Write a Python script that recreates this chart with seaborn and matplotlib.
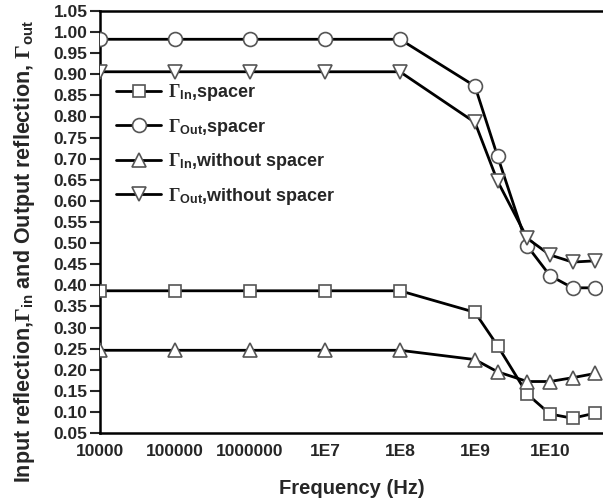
import matplotlib
matplotlib.use("Agg")
import matplotlib.pyplot as plt
import seaborn as sns
import numpy as np
from matplotlib.ticker import FixedLocator, FixedFormatter, NullLocator

sns.set_style("ticks")
plt.rcParams['font.family'] = ['Liberation Sans', 'DejaVu Sans']
plt.rcParams['font.weight'] = 'bold'
plt.rcParams['mathtext.fontset'] = 'custom'
plt.rcParams['mathtext.rm'] = 'Liberation Serif'
plt.rcParams['mathtext.it'] = 'Liberation Serif:italic'
plt.rcParams['mathtext.bf'] = 'Liberation Sans:bold'

freq = [1e4, 1e5, 1e6, 1e7, 1e8, 1e9, 2e9, 5e9, 1e10, 2e10, 4e10]
gin_spacer = [0.387, 0.387, 0.387, 0.387, 0.387, 0.336, 0.257, 0.142, 0.095, 0.085, 0.097]
gout_spacer = [0.983, 0.983, 0.983, 0.983, 0.983, 0.872, 0.706, 0.493, 0.423, 0.394, 0.394]
gin_without = [0.246, 0.246, 0.246, 0.246, 0.246, 0.224, 0.195, 0.172, 0.172, 0.181, 0.191]
gout_without = [0.906, 0.906, 0.906, 0.906, 0.906, 0.786, 0.647, 0.511, 0.472, 0.455, 0.458]

labels = [r'$\Gamma_{\mathbf{In}}$,spacer', r'$\Gamma_{\mathbf{Out}}$,spacer',
          r'$\Gamma_{\mathbf{In}}$,without spacer', r'$\Gamma_{\mathbf{Out}}$,without spacer']
xtick_vals = [1e4, 1e5, 1e6, 1e7, 1e8, 1e9, 1e10]
xtick_labels = ['10000', '100000', '1000000', '1E7', '1E8', '1E9', '1E10']

fig = plt.figure(figsize=(6.03, 5.03), dpi=100)
ax = fig.add_axes([100/603, 70/503, 1 - 100/603, 422/503])

series = [gin_spacer, gout_spacer, gin_without, gout_without]
markers = ['s', 'o', '^', 'v']
sizes = [8, 10, 10.5, 10.5]
for vals, m, lab, s in zip(series, markers, labels, sizes):
    sns.lineplot(x=freq, y=vals, ax=ax, color='black', lw=2, marker=m, ms=s,
                 mfc='white', mec='#555555', mew=1.2, label=lab, zorder=3)

ax.set_xscale('log')
ax.set_xlim(1e4, 5.1e10)
ax.set_ylim(0.05, 1.05)
ax.xaxis.set_major_locator(FixedLocator(xtick_vals))
ax.xaxis.set_major_formatter(FixedFormatter(xtick_labels))
ax.xaxis.set_minor_locator(NullLocator())
ax.set_yticks(np.round(np.arange(0.05, 1.051, 0.05), 2))
ax.set_yticklabels([f'{v:.2f}' for v in np.arange(0.05, 1.051, 0.05)])

for sp in ['left', 'bottom', 'top']:
    ax.spines[sp].set_visible(True)
    ax.spines[sp].set_linewidth(1.8)
    ax.spines[sp].set_color('black')
ax.spines['right'].set_visible(False)

ax.tick_params(axis='y', direction='out', length=7, width=1.5, labelsize=12.5, pad=2)
ax.tick_params(axis='x', length=0, labelsize=12.5, pad=8)
for t in ax.get_xticklabels() + ax.get_yticklabels():
    t.set_fontweight('bold')

ax.set_xlabel('Frequency (Hz)', fontsize=14.5, fontweight='bold', labelpad=14)
ax.set_ylabel(r'Input reflection,$\Gamma_{\mathbf{in}}$ and Output reflection, $\Gamma_{\mathbf{out}}$',
              fontsize=15.5, fontweight='bold')
ax.yaxis.set_label_coords(-0.125, 0.43)

leg = ax.legend(loc='upper left', bbox_to_anchor=(0.0, 0.87), frameon=False,
                handlelength=2.5, labelspacing=0.75, handletextpad=0.35,
                prop={'weight': 'bold', 'size': 13}, numpoints=1)

fig.savefig('out.png', dpi=100)
